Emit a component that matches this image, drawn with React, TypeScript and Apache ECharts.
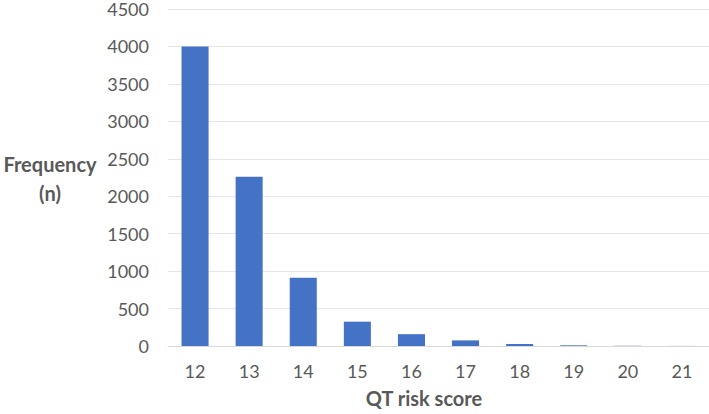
import React, { useEffect, useRef } from "react";
import * as echarts from "echarts";

const categories = ["12", "13", "14", "15", "16", "17", "18", "19", "20", "21"];
const frequency = [4000, 2260, 910, 325, 158, 75, 27, 9, 3, 1];
const yMax = 4500;
const yInterval = 500;

export default function App() {
  const ref = useRef<HTMLDivElement>(null);
  useEffect(() => {
    if (!ref.current) return;
    const chart = echarts.init(ref.current, null, { renderer: "svg" });
    chart.setOption({
      animation: false,
      backgroundColor: "#ffffff",
      grid: { left: 168, right: 0, top: 8, bottom: 68, containLabel: false },
      xAxis: {
        type: "category",
        data: categories,
        axisLine: { show: true, lineStyle: { color: "#d9d9d9", width: 1 } },
        axisTick: { show: false },
        axisLabel: {
          color: "#595959",
          fontFamily: "Lato",
          fontSize: 18,
          margin: 16,
        },
      },
      yAxis: {
        type: "value",
        min: 0,
        max: yMax,
        interval: yInterval,
        axisLine: { show: false },
        axisTick: { show: false },
        splitLine: { show: true, lineStyle: { color: "#e6e6e6", width: 1 } },
        axisLabel: {
          color: "#595959",
          fontFamily: "Lato",
          fontSize: 18,
          margin: 19,
          formatter: (v: number) => String(v),
        },
      },
      series: [
        {
          type: "bar",
          data: frequency,
          barWidth: "50%",
          itemStyle: { color: "#4472C4" },
        },
      ],
      graphic: [
        {
          type: "text",
          x: 50,
          y: 164,
          style: {
            text: "Frequency",
            fill: "#595959",
            font: "bold 20px Lato",
            align: "center",
            verticalAlign: "middle",
          },
        },
        {
          type: "text",
          x: 50,
          y: 193,
          style: {
            text: "(n)",
            fill: "#595959",
            font: "bold 20px Lato",
            align: "center",
            verticalAlign: "middle",
          },
        },
        {
          type: "text",
          x: 424,
          y: 398,
          style: {
            text: "QT risk score",
            fill: "#595959",
            font: "bold 20px Lato",
            align: "center",
            verticalAlign: "middle",
          },
        },
      ],
    });
    return () => chart.dispose();
  }, []);
  return <div ref={ref} style={{ width: 709, height: 414, position: "absolute", left: 0, top: 0 }} />;
}
